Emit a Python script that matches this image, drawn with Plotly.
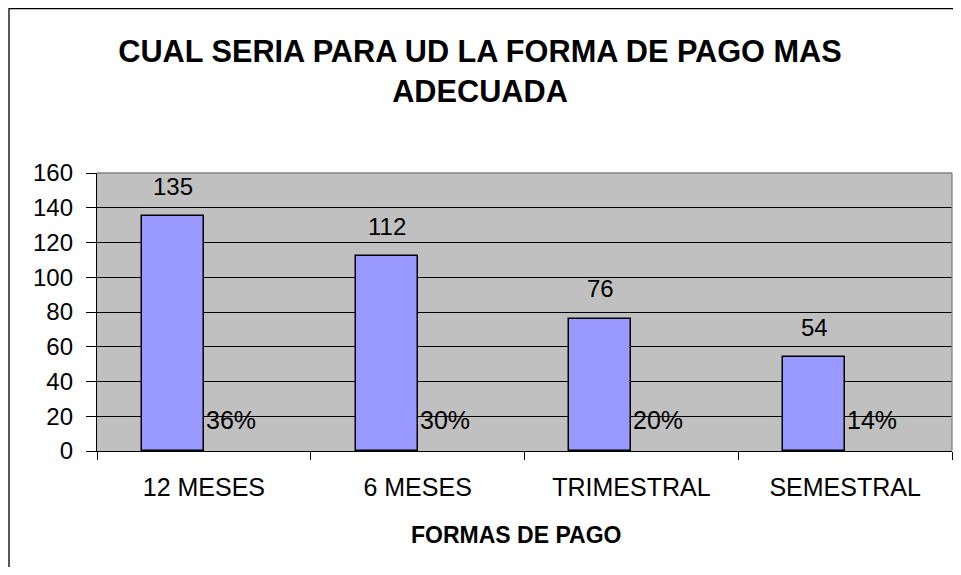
import plotly.graph_objects as go

categories = ["12 MESES", "6 MESES", "TRIMESTRAL", "SEMESTRAL"]
values = [135, 112, 76, 54]
percent_labels = ["36%", "30%", "20%", "14%"]
y_ticks = [0, 20, 40, 60, 80, 100, 120, 140, 160]

title_text = "CUAL SERIA PARA UD LA FORMA DE PAGO MAS<br>ADECUADA"
x_title = "FORMAS DE PAGO"

FONT = "Liberation Sans, Arial, sans-serif"

# The page body has an 8px margin, so the figure is sized to fit the window.
W, H = 945, 559
L, R, T, B = 89, 1, 165, 116
PW, PH = W - L - R, H - T - B

fig = go.Figure()
fig.add_trace(go.Bar(
    x=categories, y=values,
    width=0.29, offset=-0.29,
    marker=dict(color="#9999FF", line=dict(color="#000000", width=1.5)),
    hoverinfo="x+y", showlegend=False,
))

annotations = []
for c, v in zip(categories, values):
    annotations.append(dict(
        x=c, y=v, xref="x", yref="y", text=str(v), showarrow=False,
        xanchor="center", yanchor="middle", xshift=-31, yshift=30,
        font=dict(family=FONT, size=24, color="#000000"),
    ))
for c, p in zip(categories, percent_labels):
    annotations.append(dict(
        x=c, y=0, xref="x", yref="y", text=p, showarrow=False,
        xanchor="left", yanchor="middle", xshift=0, yshift=31,
        font=dict(family=FONT, size=25, color="#000000"),
    ))
annotations.append(dict(
    x=0.49, y=0, xref="paper", yref="paper", text="<b>" + x_title + "</b>",
    showarrow=False, xanchor="center", yanchor="middle", yshift=-84,
    font=dict(family=FONT, size=23, color="#000000"),
))

shapes = [
    # outer chart border
    dict(type="rect", xref="paper", yref="paper",
         x0=(1 - L) / PW, x1=1.2, y0=-0.6, y1=(PH + T - 0.7) / PH,
         line=dict(color="#000000", width=1.3), fillcolor="rgba(0,0,0,0)", layer="below"),
    # plot area top & right border (gray)
    dict(type="line", xref="paper", yref="paper", x0=0, x1=1, y0=1, y1=1,
         line=dict(color="#808080", width=1.3)),
    dict(type="line", xref="paper", yref="paper", x0=1, x1=1, y0=0, y1=1,
         line=dict(color="#808080", width=1.3)),
]

fig.update_layout(
    width=W, height=H,
    margin=dict(l=L, r=R, t=T, b=B),
    paper_bgcolor="#FFFFFF",
    plot_bgcolor="#C0C0C0",
    font=dict(family=FONT, size=24, color="#000000"),
    title=dict(text="<b>" + title_text + "</b>", x=(480 - 8) / W, xref="container",
               xanchor="center", y=1 - 54 / H, yref="container", yanchor="top",
               font=dict(family=FONT, size=30.7, color="#000000")),
    xaxis=dict(
        showgrid=False, showline=True, linecolor="#000000", linewidth=1.3,
        ticks="outside", ticklen=8, tickcolor="#000000", tickwidth=1,
        tickson="boundaries", ticklabelstandoff=14,
        tickfont=dict(family=FONT, size=25, color="#000000"),
        zeroline=False,
    ),
    yaxis=dict(
        range=[0, 160], tickvals=y_ticks, showgrid=True,
        gridcolor="#000000", gridwidth=1,
        showline=True, linecolor="#000000", linewidth=1.3,
        ticks="outside", ticklen=10, tickcolor="#000000", tickwidth=1,
        ticklabelstandoff=8, zeroline=False,
        tickfont=dict(family=FONT, size=24, color="#000000"),
    ),
    annotations=annotations,
    shapes=shapes,
    bargap=0, showlegend=False,
)

fig.write_html("out.html")
